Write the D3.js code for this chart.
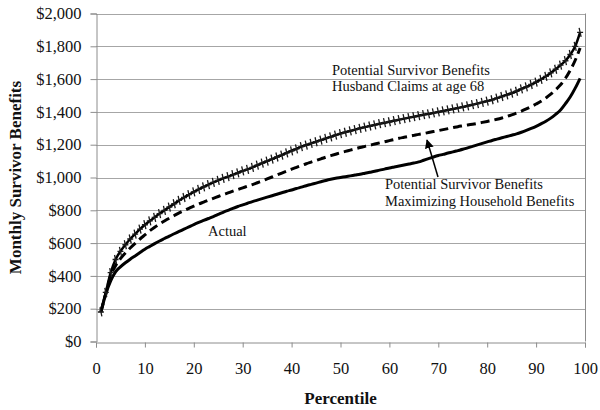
<!DOCTYPE html>
<html>
<head>
<meta charset="utf-8">
<script src="https://cdn.jsdelivr.net/npm/d3@7"></script>
<style>
  html, body { margin: 0; padding: 0; background: #fff; }
  svg { display: block; }
  text { font-family: "Liberation Serif", "Times New Roman", serif; fill: #111; }
</style>
</head>
<body>
<svg id="chart" width="600" height="410"></svg>
<script>
// ---------------- data ----------------
const percentiles = d3.range(1, 100);
const actual = [180,290,370,425,455,480,502,522,543,563,580,597,613,628,643,657,671,685,699,713,
  726,738,750,762,775,788,800,812,823,833,843,853,862,871,880,889,898,907,916,924,
  933,941,950,958,966,974,982,989,995,1000,1005,1010,1015,1020,1026,1032,1038,1045,1051,1058,
  1064,1070,1076,1082,1088,1095,1105,1115,1125,1134,1141,1149,1156,1164,1172,1181,1190,1199,1208,1217,
  1226,1234,1242,1250,1258,1266,1276,1287,1299,1312,1327,1343,1362,1385,1412,1450,1492,1545,1605];
const maximizing = [180,290,400,462,505,540,570,598,625,650,675,697,717,735,752,768,784,798,812,825,
  838,850,862,873,884,895,906,917,927,937,947,957,968,979,991,1003,1015,1027,1039,1051,
  1062,1073,1084,1094,1104,1114,1124,1133,1142,1151,1159,1167,1175,1183,1190,1197,1204,1211,1218,1225,
  1232,1239,1245,1251,1257,1263,1268,1274,1280,1286,1292,1298,1304,1310,1315,1320,1325,1330,1336,1342,
  1348,1355,1363,1372,1382,1393,1405,1418,1432,1448,1465,1485,1508,1535,1565,1605,1655,1715,1790];
const husband68 = [180,300,420,500,550,590,625,655,685,712,735,757,780,800,820,840,860,878,895,912,
  928,943,957,970,983,995,1005,1017,1028,1040,1050,1062,1075,1088,1100,1112,1125,1137,1150,1163,
  1175,1188,1198,1208,1218,1228,1238,1248,1258,1268,1276,1284,1292,1300,1307,1314,1321,1328,1334,1340,
  1347,1353,1359,1365,1371,1377,1383,1388,1394,1400,1406,1412,1418,1424,1430,1437,1444,1451,1458,1466,
  1474,1484,1494,1504,1514,1526,1540,1553,1567,1582,1598,1617,1638,1660,1685,1712,1750,1800,1885];
const yTicks = [0,200,400,600,800,1000,1200,1400,1600,1800,2000];
const xTicks = [0,10,20,30,40,50,60,70,80,90,100];
const labelHusband = ["Potential Survivor Benefits", "Husband Claims at age 68"];
const labelMax = ["Potential Survivor Benefits", "Maximizing Household Benefits"];
const labelActual = "Actual";
const yTitle = "Monthly Survivor Benefits";
const xTitle = "Percentile";

// ---------------- layout ----------------
const W = 600, H = 410;
const m = { left: 96, right: 15, top: 13.5, bottom: 68.5 };
const svg = d3.select("#chart");
const x = d3.scaleLinear().domain([0, 100]).range([m.left, W - m.right]);
const y = d3.scaleLinear().domain([0, 2000]).range([H - m.bottom, m.top]);
const gridColor = "#a6a6a6";

// gridlines
svg.append("g").selectAll("line").data(yTicks.filter(d => d > 0)).join("line")
  .attr("x1", x(0)).attr("x2", x(100))
  .attr("y1", d => Math.round(y(d)) + 0.5).attr("y2", d => Math.round(y(d)) + 0.5)
  .attr("stroke", gridColor).attr("stroke-width", 1);
// right border
svg.append("line").attr("x1", Math.round(x(100)) + 0.5).attr("x2", Math.round(x(100)) + 0.5)
  .attr("y1", y(2000)).attr("y2", y(0)).attr("stroke", "#8c8c8c");

// axes
const yAxis = d3.axisLeft(y).tickValues(yTicks).tickSize(6).tickPadding(9)
  .tickFormat(d => "$" + d3.format(",")(d));
const gy = svg.append("g").attr("transform", `translate(${Math.round(x(0)) + 0.5},0)`).call(yAxis);
gy.select(".domain").attr("stroke", "#8c8c8c");
gy.selectAll(".tick line").attr("stroke", "#8c8c8c");
gy.selectAll(".tick text").attr("font-size", 16.5).attr("fill", "#111")
  .attr("font-family", "Liberation Serif");

const xAxis = d3.axisBottom(x).tickValues(xTicks).tickSize(5).tickPadding(15);
const gx = svg.append("g").attr("transform", `translate(0,${Math.round(y(0)) + 0.5})`).call(xAxis);
gx.select(".domain").attr("stroke", "#8c8c8c");
gx.selectAll(".tick line").attr("stroke", "#8c8c8c");
gx.selectAll(".tick text").attr("font-size", 16.5).attr("fill", "#111")
  .attr("font-family", "Liberation Serif");

// lines
const line = arr => d3.line().x((d, i) => x(percentiles[i])).y(d => y(d)).curve(d3.curveMonotoneX)(arr);

svg.append("path").attr("d", line(actual)).attr("fill", "none")
  .attr("stroke", "#000").attr("stroke-width", 3);
svg.append("path").attr("d", line(maximizing)).attr("fill", "none")
  .attr("stroke", "#000").attr("stroke-width", 3).attr("stroke-dasharray", "9,5");
svg.append("path").attr("d", line(husband68)).attr("fill", "none")
  .attr("stroke", "#000").attr("stroke-width", 2.5);
svg.append("g").selectAll("path").data(husband68).join("path")
  .attr("d", (d, i) => {
    const cx = x(percentiles[i]), cy = y(d);
    return `M${cx - 1},${cy - 4.5}L${cx + 1},${cy + 4.5}M${cx - 3},${cy}L${cx + 3},${cy}`;
  })
  .attr("stroke", "#1a1a1a").attr("stroke-width", 1.3).attr("fill", "none");

// annotations
const ann = svg.append("g").attr("font-size", 14.5);
ann.append("text").attr("x", 332).attr("y", 75).text(labelHusband[0]);
ann.append("text").attr("x", 332).attr("y", 91).text(labelHusband[1]);
ann.append("text").attr("x", 385).attr("y", 189).text(labelMax[0]);
ann.append("text").attr("x", 385).attr("y", 206).text(labelMax[1]);
ann.append("text").attr("x", 208).attr("y", 236).text(labelActual);

// arrow
svg.append("defs").append("marker").attr("id", "ah")
  .attr("viewBox", "0 0 10 10").attr("refX", 9).attr("refY", 5)
  .attr("markerWidth", 6).attr("markerHeight", 6).attr("orient", "auto")
  .append("path").attr("d", "M0,0L10,5L0,10z").attr("fill", "#000");
svg.append("line").attr("x1", 438).attr("y1", 177).attr("x2", 427).attr("y2", 140)
  .attr("stroke", "#000").attr("stroke-width", 1.5).attr("marker-end", "url(#ah)");

// titles
svg.append("text").attr("transform", `translate(21,${(y(0) + y(2000)) / 2}) rotate(-90)`)
  .attr("text-anchor", "middle").attr("font-size", 17).attr("font-weight", "bold").text(yTitle);
svg.append("text").attr("x", x(50)).attr("y", 404).attr("text-anchor", "middle")
  .attr("font-size", 17).attr("font-weight", "bold").text(xTitle);
</script>
</body>
</html>
